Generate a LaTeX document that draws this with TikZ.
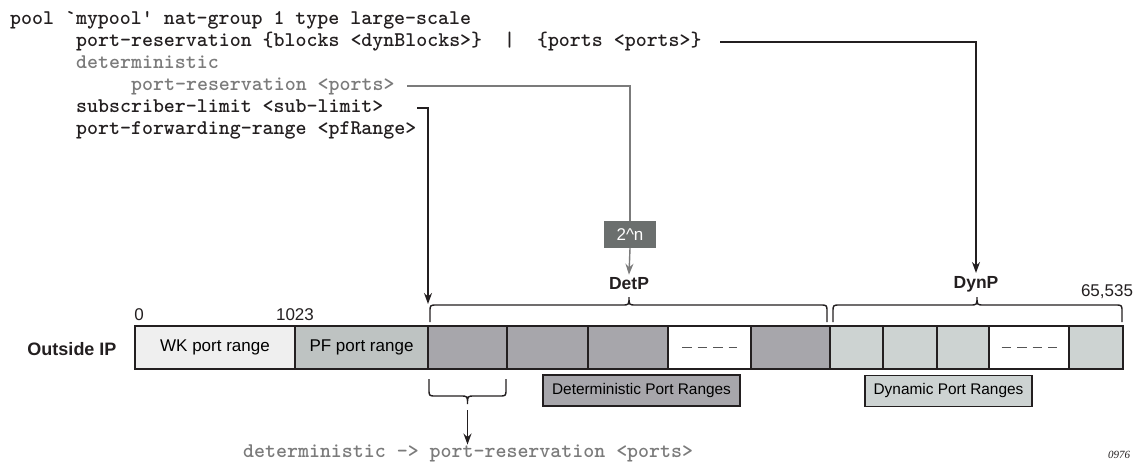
\documentclass[tikz,border=0pt]{standalone}
\usepackage{fontspec}
\setsansfont{Liberation Sans}
\newfontfamily\numserif{Liberation Serif}
\usetikzlibrary{arrows.meta}
\definecolor{ink}{HTML}{231F20}
\definecolor{codegray}{HTML}{7B7B7B}
\definecolor{wkfill}{HTML}{EFEFEF}
\definecolor{pffill}{HTML}{BEC3C2}
\definecolor{detfill}{HTML}{A7A6AB}
\definecolor{dynfill}{HTML}{CDD3D2}
\definecolor{powfill}{HTML}{6B6F6E}
\definecolor{dashgray}{HTML}{555555}
\tikzset{
  code/.style={anchor=base west, inner sep=0pt, text=ink,
    font=\fontsize{20.9}{22}\selectfont\ttfamily\bfseries},
  gcode/.style={code, text=codegray},
  seg/.style={draw=ink, line width=2.2pt, minimum height=43pt, inner sep=0pt,
    font=\fontsize{17}{20}\selectfont\sffamily},
  lbl/.style={inner sep=3pt, text=ink, font=\fontsize{17.5}{20}\selectfont\sffamily\bfseries},
  num/.style={inner sep=0pt, text=ink, font=\fontsize{17}{20}\selectfont\sffamily},
  legend/.style={draw=ink, line width=1.3pt, minimum height=31pt, inner sep=0pt,
    font=\fontsize{15.4}{18}\selectfont\sffamily},
  conn/.style={draw=ink, line width=1.4pt},
  arr/.style={conn, -{Stealth[length=11pt,width=8pt]}},
  gconn/.style={draw=codegray, line width=1.4pt},
  garr/.style={gconn, -{Stealth[length=11pt,width=8pt]}},
  bracepath/.style={draw=ink, line width=1.4pt},
  dashline/.style={draw=dashgray, line width=1.6pt, dash pattern=on 9.5pt off 6pt}
}
\begin{document}
\begin{tikzpicture}[x=1pt,y=-1pt]
\useasboundingbox (0,0) rectangle (1142,464);

% code lines
\node[code]  (l1) at (10,24.5)  {pool `mypool' nat-group 1 type large-scale};
\node[code]  (l2) at (76,46.5)  {port-reservation \{blocks <dynBlocks>\}~~|~~\{ports <ports>\}};
\node[gcode] (l3) at (76,68.5)  {deterministic};
\node[gcode] (l4) at (131,90.5) {port-reservation <ports>};
\node[code]  (l5) at (76,112.5) {subscriber-limit <sub-limit>};
\node[code]  (l6) at (76,134.5) {port-forwarding-range <pfRange>};

% bar segments
\node[seg, fill=wkfill,  minimum width=160pt] (wk) at (215,347.5)   {WK port range};
\node[seg, fill=pffill,  minimum width=133pt] (pf) at (361.5,347.5) {PF port range};
\node[seg, fill=detfill, minimum width=79pt]  (d1) at (467.5,347.5) {};
\node[seg, fill=detfill, minimum width=81pt]  (d2) at (547.5,347.5) {};
\node[seg, fill=detfill, minimum width=80pt]  (d3) at (628,347.5)   {};
\node[seg, fill=white,   minimum width=83pt]  (dw) at (709.5,347.5) {};
\node[seg, fill=detfill, minimum width=79pt]  (d4) at (790.5,347.5) {};
\node[seg, fill=dynfill, minimum width=53pt]  (y1) at (856.5,347.5) {};
\node[seg, fill=dynfill, minimum width=54pt]  (y2) at (910,347.5)   {};
\node[seg, fill=dynfill, minimum width=52pt]  (y3) at (963,347.5)   {};
\node[seg, fill=white,   minimum width=80pt]  (yw) at (1029,347.5)  {};
\node[seg, fill=dynfill, minimum width=54pt]  (y4) at (1096,347.5)  {};
\draw[dashline] ([xshift=-27.5pt]dw.center) -- ([xshift=27.5pt]dw.center);
\draw[dashline] ([xshift=-27.5pt]yw.center) -- ([xshift=27.5pt]yw.center);

% labels
\node[lbl, font=\fontsize{18}{20}\selectfont\sffamily\bfseries] (oip) at (72,349) {Outside IP};
\node[num] (n0) at (139,315) {0};
\node[num] (n1023) at (295,315) {1023};
\node[num] (n65) at (1107,292) {65,535};
\node[lbl] (detp) at (629,284) {DetP};
\node[lbl] (dynp) at (976,284) {DynP};

% 2^n box
\node[fill=powfill, minimum width=52pt, minimum height=27pt, inner sep=0pt, text=white,
  font=\fontsize{17}{20}\selectfont\sffamily] (pow) at (630,234.5) {2\^{}n};

% legend boxes
\node[legend, fill=detfill, minimum width=197pt] (detleg) at (641.5,390.5) {Deterministic Port Ranges};
\node[legend, fill=dynfill, minimum width=167pt] (dynleg) at (948.5,391) {Dynamic Port Ranges};

% bottom code
\node[gcode] (bot) at (243,457.5) {deterministic -> port-reservation <ports>};

% tag
\node[inner sep=0pt, text=ink, font=\fontsize{11}{12}\selectfont\numserif\itshape] (tag) at (1119,455) {0976};

% braces
\draw[bracepath] (430,322) -- (430,312) .. controls (430,305) .. (437,305) -- (622,305)
  .. controls (629,305) .. (629,297) .. controls (629,305) .. (636,305) -- (820,305)
  .. controls (827,305) .. (827,312) -- (827,322);
\draw[bracepath] (833,322) -- (833,312) .. controls (833,305) .. (840,305) -- (970,305)
  .. controls (977,305) .. (977,297) .. controls (977,305) .. (984,305) -- (1115,305)
  .. controls (1122,305) .. (1122,312) -- (1122,322);
\draw[bracepath] (429,379) -- (429,389) .. controls (429,396) .. (436,396) -- (460.5,396)
  .. controls (467.5,396) .. (467.5,404) .. controls (467.5,396) .. (474.5,396) -- (499,396)
  .. controls (506,396) .. (506,389) -- (506,379);

% connectors
\coordinate (s2) at (720,42);
\coordinate (s4) at (407,86);
\coordinate (s5) at (417,108);
\coordinate (pfin) at (428,304);
\coordinate (bt) at (467.5,410);
\draw[arr] (s2) -| (dynp.north);
\draw[gconn] (s4) -| (pow.north);
\draw[garr] (pow.south) -- (detp.north);
\draw[arr] (s5) -| (pfin);
\draw[arr] (bt) -- (bot.north -| bt);
\end{tikzpicture}
\end{document}
